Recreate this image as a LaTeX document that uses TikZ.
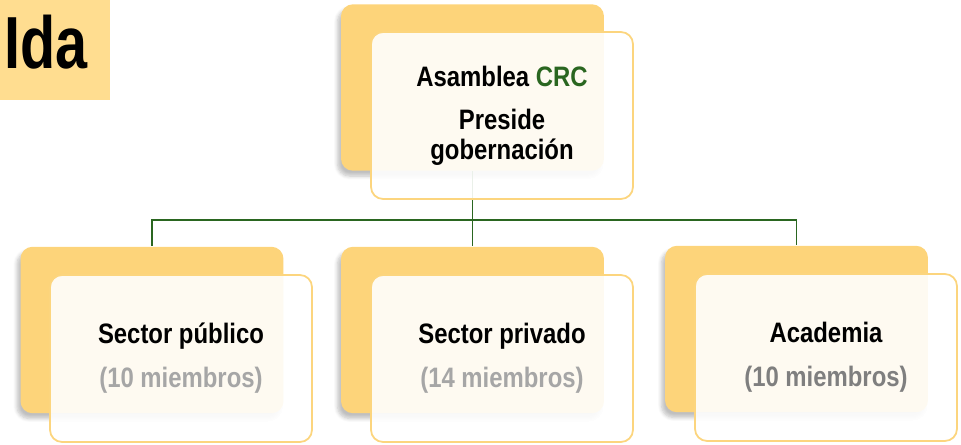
\documentclass[tikz,border=0pt]{standalone}
\usepackage{fontspec}
\setmainfont{Liberation Sans}[FakeStretch=0.85]
\newfontfamily\idafont{Liberation Sans}[FakeStretch=0.78]
\usetikzlibrary{shadows.blur}
\definecolor{boxorange}{HTML}{FDD47A}
\definecolor{idaorange}{HTML}{FFDD90}
\definecolor{frontedge}{HTML}{FCD57E}
\definecolor{crcgreen}{HTML}{2A6620}
\definecolor{softgrey}{HTML}{A6A6A6}
\definecolor{darkgrey}{HTML}{7F7F7F}
\tikzstyle{backbox}=[rectangle,rounded corners=0.24cm,minimum width=5.26cm,minimum height=3.33cm,fill=boxorange,draw=none,blur shadow={shadow xshift=-2pt,shadow yshift=-3pt,shadow blur steps=6,shadow opacity=25}]
\tikzstyle{frontbox}=[rectangle,rounded corners=0.24cm,minimum width=5.24cm,minimum height=3.34cm,text centered,align=center,fill=white,fill opacity=0.9,text opacity=1,draw=frontedge,line width=1pt,font=\bfseries\fontsize{16pt}{17pt}\selectfont]
\tikzstyle{link}=[line width=1.1pt,draw=crcgreen]

\begin{document}
\begin{tikzpicture}[x=0.02cm,y=-0.02cm]
            \useasboundingbox (0,0) rectangle (961,444);
            \node (idabg)[fill=idaorange,minimum width=2.2cm,minimum height=2cm,inner sep=0,anchor=north west] at (0,0) {};
            \node (ida)[anchor=base west,inner sep=0,font=\idafont\bfseries\fontsize{42pt}{44pt}\selectfont] at (4,68) {Ida};
            \node (asambg)[backbox] at (472.5,87.5) {};
            \node (pubbg)[backbox] at (152,330) {};
            \node (privbg)[backbox] at (472.5,330) {};
            \node (acadbg)[backbox] at (796.5,329) {};
            \draw [link] (asambg.south) -- ++(0,49) -| (pubbg.north);
            \draw [link] (asambg.south) -- ++(0,49) -| (acadbg.north);
            \draw [link] (asambg.south) -- (privbg.north);
            \node (asam)[frontbox,below of=asambg,node distance=0.56cm,xshift=0.59cm]{Asamblea {\color{crcgreen}CRC}\\[7.4pt]Preside\\gobernación};
            \node (pub)[frontbox,below of=pubbg,node distance=0.57cm,xshift=0.58cm]{Sector público\\[8pt]{\color{softgrey}(10 miembros)}};
            \node (priv)[frontbox,below of=privbg,node distance=0.57cm,xshift=0.59cm]{Sector privado\\[8pt]{\color{softgrey}(14 miembros)}};
            \node (acad)[frontbox,below of=acadbg,node distance=0.57cm,xshift=0.59cm]{Academia\\[8pt]{\color{darkgrey}(10 miembros)}};
        \end{tikzpicture}
\end{document}
